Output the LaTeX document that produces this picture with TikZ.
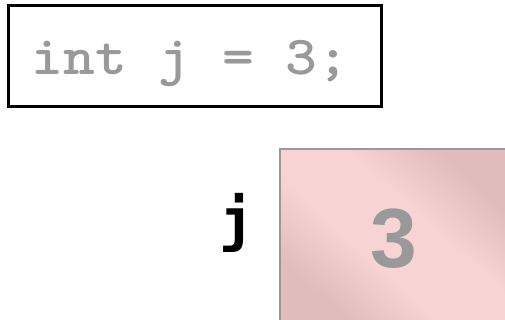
\documentclass[tikz,border=0pt]{standalone}
\usepackage{fontspec}
\newfontfamily\numfont{Liberation Sans}
\newfontfamily\labelfont{DejaVu Sans Mono}
\definecolor{codegray}{RGB}{153,153,153}
\definecolor{pinklight}{RGB}{247,211,212}
\definecolor{pinkdark}{RGB}{224,188,188}
\pgfdeclareverticalshading{pinkband}{100bp}{color(0bp)=(pinkdark); color(27bp)=(pinkdark); color(42bp)=(pinklight); color(58bp)=(pinklight); color(73bp)=(pinkdark); color(100bp)=(pinkdark)}
\tikzset{
  codebox/.style={draw=black, line width=3pt, minimum width=373pt, minimum height=100.5pt, inner sep=0pt},
  codetext/.style={text=codegray, font=\ttfamily\bfseries\fontsize{55}{55}\selectfont, inner sep=0pt, transform shape, xscale=1.1},
  membox/.style={draw=codegray, line width=2pt, inner sep=0pt, minimum width=232pt, minimum height=178pt,
    shading=pinkband, shading angle=-42},
  memvalue/.style={text=codegray, font=\numfont\bfseries\fontsize{84}{84}\selectfont, inner sep=0pt},
  memlabel/.style={text=black, font=\labelfont\bfseries\fontsize{58}{58}\selectfont, inner sep=0pt}
}
\begin{document}
\begin{tikzpicture}[x=1pt,y=1pt]
\useasboundingbox (0,0) rectangle (505,320);
\clip (0,0) rectangle (505,320);
\fill[white] (0,0) rectangle (505,320);
\node[codebox] (decl) at (195,263.75) {};
\node[codetext, anchor=base west] (code) at (31.5,245) {int j = 3;};
\node[membox, anchor=north west] (jbox) at (279.3,171.7) {};
\node[memvalue, anchor=base] (jval) at (394,52) {3};
\node[memlabel, anchor=base] (jname) at (237,79) {j};
\end{tikzpicture}
\end{document}
